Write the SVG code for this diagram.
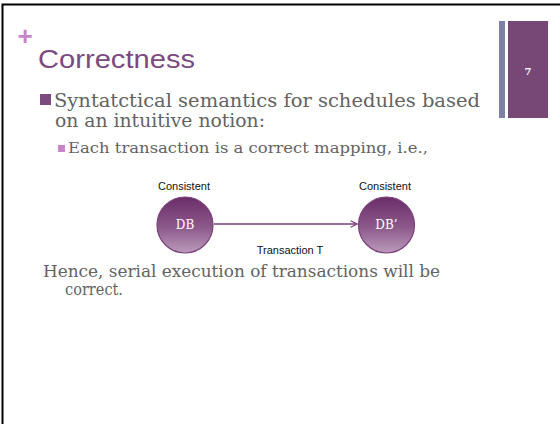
<svg xmlns="http://www.w3.org/2000/svg" width="560" height="424" viewBox="0 0 560 424">
  <defs>
    <linearGradient id="nodeFill" x1="0" y1="0" x2="0" y2="1">
      <stop offset="0" stop-color="#6a2c68"/>
      <stop offset="0.55" stop-color="#8d5a8c"/>
      <stop offset="1" stop-color="#bb9bbb"/>
    </linearGradient>
    <marker id="arrowHead" viewBox="0 0 10 10" refX="9" refY="5" markerWidth="8" markerHeight="8" markerUnits="userSpaceOnUse" orient="auto">
      <path d="M1,1 L9,5 L1,9" fill="none" stroke="#7a3f7a" stroke-width="1.4"/>
    </marker>
    <style>
      .body { font-family: "DejaVu Serif", "Liberation Serif", serif; fill: #636363; }
      .label { font-family: "Liberation Sans", Arial, sans-serif; font-size: 11px; fill: #111111; }
      .node { fill: url(#nodeFill); stroke: #7a3f7a; stroke-width: 1.2; }
      .nodeText { font-family: "DejaVu Serif", "Liberation Serif", serif; font-size: 12px; fill: #ffffff; text-anchor: middle; }
    </style>
  </defs>

  <rect x="0" y="0" width="560" height="424" fill="#ffffff"/>
  <!-- slide frame -->
  <path d="M2.5,424 V4.5 H560" fill="none" stroke="#000000" stroke-width="2"/>

  <!-- corner mark and title -->
  <text x="25" y="45" font-family="Liberation Sans, Arial, sans-serif" font-size="26" font-weight="bold" fill="#c785c9" text-anchor="middle">+</text>
  <text x="38" y="68" font-family="Liberation Sans, Arial, sans-serif" font-size="26" fill="#7b4a7e" textLength="157" lengthAdjust="spacingAndGlyphs">Correctness</text>

  <!-- page number tab -->
  <rect x="499" y="21" width="6" height="97" fill="#7f7fab"/>
  <rect x="508" y="21" width="40" height="97" fill="#774776"/>
  <text x="528" y="75" font-family="DejaVu Serif, serif" font-size="10" font-weight="bold" fill="#ffffff" text-anchor="middle">7</text>

  <!-- bullets -->
  <rect x="40" y="94" width="11" height="11" fill="#7b4a7e"/>
  <text class="body" x="54" y="107" font-size="18" textLength="426" lengthAdjust="spacingAndGlyphs">Syntatctical semantics for schedules based</text>
  <text class="body" x="55" y="127" font-size="18" textLength="210" lengthAdjust="spacingAndGlyphs">on an intuitive notion:</text>

  <rect x="58" y="145" width="7" height="7" fill="#c785c9"/>
  <text class="body" x="68" y="153" font-size="14" textLength="360" lengthAdjust="spacingAndGlyphs">Each transaction is a correct mapping, i.e.,</text>

  <!-- connectors -->
  <g id="connectors">
    <line x1="214" y1="224" x2="357" y2="224" stroke="#7a3f7a" stroke-width="1.4" marker-end="url(#arrowHead)"/>
    <text class="label" x="290" y="254" text-anchor="middle">Transaction T</text>
  </g>

  <!-- nodes -->
  <g id="db">
    <text class="label" x="184" y="190" text-anchor="middle">Consistent</text>
    <circle class="node" cx="185" cy="225" r="28"/>
    <text class="nodeText" x="185" y="229">DB</text>
  </g>
  <g id="db-prime">
    <text class="label" x="385" y="190" text-anchor="middle">Consistent</text>
    <circle class="node" cx="386.5" cy="225" r="28"/>
    <text class="nodeText" x="386.5" y="229">DB’</text>
  </g>

  <!-- conclusion -->
  <text class="body" x="43" y="277" font-size="16" textLength="397" lengthAdjust="spacingAndGlyphs">Hence, serial execution of transactions will be</text>
  <text class="body" x="65" y="295" font-size="16" textLength="58" lengthAdjust="spacingAndGlyphs">correct.</text>
</svg>
